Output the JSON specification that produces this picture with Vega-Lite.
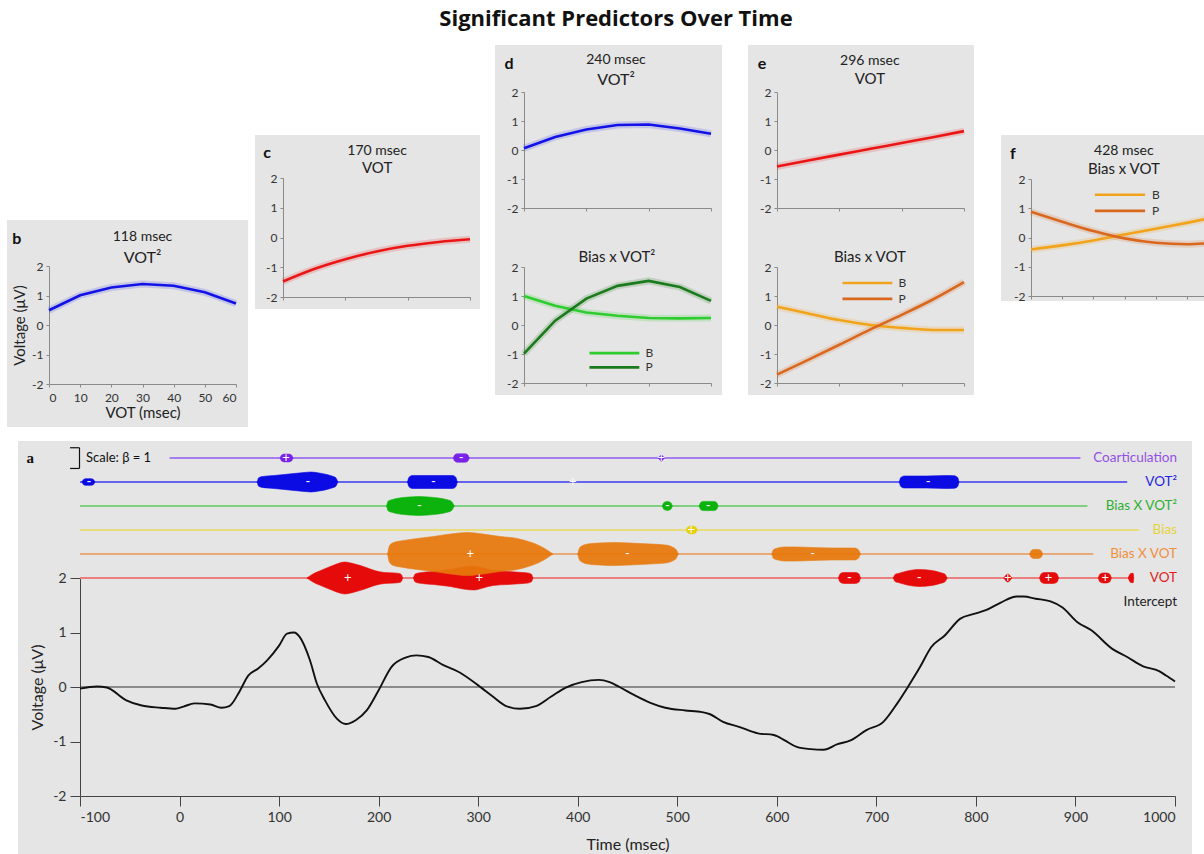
{
  "$schema": "https://vega.github.io/schema/vega-lite/v6.json",
  "background": "white",
  "padding": {"left": 7, "top": 8, "right": 0, "bottom": 0},
  "title": {"text": "Significant Predictors Over Time", "font": "Open Sans", "fontSize": 22, "fontWeight": "bold", "color": "#111111", "anchor": "middle", "offset": 14, "dx": 4},
  "config": {
    "font": "Lato",
    "view": {"stroke": null},
    "axis": {"grid": false, "labelFont": "Lato", "titleFont": "Lato", "labelFontSize": 11, "titleFontSize": 15, "titleFontWeight": "normal", "labelColor": "#333333", "titleColor": "#222222", "domainColor": "#8a8a8a", "tickColor": "#8a8a8a", "tickSize": 3, "labelPadding": 3},
    "text": {"font": "Lato"}
  },
  "datasets": {
    "b_vot2": [{"vot": 0, "v": 0.5}, {"vot": 10, "v": 1.01}, {"vot": 20, "v": 1.27}, {"vot": 30, "v": 1.39}, {"vot": 40, "v": 1.33}, {"vot": 50, "v": 1.11}, {"vot": 60, "v": 0.73}],
    "c_vot": [{"vot": 0, "v": -1.48}, {"vot": 10, "v": -1.06}, {"vot": 20, "v": -0.73}, {"vot": 30, "v": -0.47}, {"vot": 40, "v": -0.28}, {"vot": 50, "v": -0.15}, {"vot": 60, "v": -0.06}],
    "d_vot2": [{"vot": 0, "v": 0.06}, {"vot": 10, "v": 0.45}, {"vot": 20, "v": 0.71}, {"vot": 30, "v": 0.86}, {"vot": 40, "v": 0.88}, {"vot": 50, "v": 0.74}, {"vot": 60, "v": 0.56}],
    "d_bias": [
      {"level": "B", "vot": 0, "v": 1.0}, {"level": "B", "vot": 10, "v": 0.66}, {"level": "B", "vot": 20, "v": 0.43}, {"level": "B", "vot": 30, "v": 0.32}, {"level": "B", "vot": 40, "v": 0.24}, {"level": "B", "vot": 50, "v": 0.23}, {"level": "B", "vot": 60, "v": 0.24},
      {"level": "P", "vot": 0, "v": -0.99}, {"level": "P", "vot": 10, "v": 0.15}, {"level": "P", "vot": 20, "v": 0.91}, {"level": "P", "vot": 30, "v": 1.35}, {"level": "P", "vot": 40, "v": 1.52}, {"level": "P", "vot": 50, "v": 1.31}, {"level": "P", "vot": 60, "v": 0.83}
    ],
    "e_vot": [{"vot": 0, "v": -0.57}, {"vot": 10, "v": -0.36}, {"vot": 20, "v": -0.16}, {"vot": 30, "v": 0.04}, {"vot": 40, "v": 0.24}, {"vot": 50, "v": 0.44}, {"vot": 60, "v": 0.65}],
    "e_bias": [
      {"level": "B", "vot": 0, "v": 0.63}, {"level": "B", "vot": 10, "v": 0.4}, {"level": "B", "vot": 20, "v": 0.17}, {"level": "B", "vot": 30, "v": 0.0}, {"level": "B", "vot": 40, "v": -0.1}, {"level": "B", "vot": 50, "v": -0.17}, {"level": "B", "vot": 60, "v": -0.17},
      {"level": "P", "vot": 0, "v": -1.71}, {"level": "P", "vot": 10, "v": -1.2}, {"level": "P", "vot": 20, "v": -0.68}, {"level": "P", "vot": 30, "v": -0.15}, {"level": "P", "vot": 40, "v": 0.35}, {"level": "P", "vot": 50, "v": 0.88}, {"level": "P", "vot": 60, "v": 1.48}
    ],
    "f_bias": [
      {"level": "B", "vot": 0, "v": -0.41}, {"level": "B", "vot": 10, "v": -0.27}, {"level": "B", "vot": 20, "v": -0.1}, {"level": "B", "vot": 30, "v": 0.1}, {"level": "B", "vot": 40, "v": 0.3}, {"level": "B", "vot": 50, "v": 0.5}, {"level": "B", "vot": 60, "v": 0.72},
      {"level": "P", "vot": 0, "v": 0.88}, {"level": "P", "vot": 10, "v": 0.54}, {"level": "P", "vot": 20, "v": 0.22}, {"level": "P", "vot": 30, "v": -0.03}, {"level": "P", "vot": 40, "v": -0.18}, {"level": "P", "vot": 50, "v": -0.23}, {"level": "P", "vot": 60, "v": -0.17}
    ],
    "erp": [
      {"t": -100, "v": -0.03}, {"t": -83, "v": 0.01}, {"t": -73, "v": -0.01}, {"t": -54, "v": -0.24}, {"t": -38, "v": -0.34}, {"t": -19, "v": -0.38}, {"t": -4, "v": -0.4}, {"t": 4, "v": -0.36}, {"t": 15, "v": -0.3}, {"t": 31, "v": -0.32}, {"t": 42, "v": -0.38}, {"t": 50, "v": -0.35}, {"t": 60, "v": -0.09}, {"t": 69, "v": 0.21}, {"t": 79, "v": 0.34}, {"t": 88, "v": 0.49}, {"t": 100, "v": 0.76}, {"t": 108, "v": 0.98}, {"t": 115, "v": 1.0}, {"t": 121, "v": 0.91}, {"t": 131, "v": 0.49}, {"t": 138, "v": 0.06}, {"t": 146, "v": -0.24}, {"t": 158, "v": -0.58}, {"t": 167, "v": -0.68}, {"t": 177, "v": -0.61}, {"t": 188, "v": -0.43}, {"t": 200, "v": -0.06}, {"t": 213, "v": 0.37}, {"t": 227, "v": 0.54}, {"t": 238, "v": 0.58}, {"t": 250, "v": 0.55}, {"t": 265, "v": 0.4}, {"t": 281, "v": 0.27}, {"t": 300, "v": 0.03}, {"t": 315, "v": -0.18}, {"t": 327, "v": -0.34}, {"t": 342, "v": -0.4}, {"t": 358, "v": -0.35}, {"t": 373, "v": -0.18}, {"t": 388, "v": -0.01}, {"t": 404, "v": 0.09}, {"t": 421, "v": 0.13}, {"t": 432, "v": 0.09}, {"t": 442, "v": 0.0}, {"t": 457, "v": -0.15}, {"t": 473, "v": -0.29}, {"t": 488, "v": -0.38}, {"t": 508, "v": -0.43}, {"t": 525, "v": -0.46}, {"t": 533, "v": -0.5}, {"t": 546, "v": -0.64}, {"t": 562, "v": -0.73}, {"t": 581, "v": -0.85}, {"t": 597, "v": -0.88}, {"t": 608, "v": -0.98}, {"t": 620, "v": -1.1}, {"t": 634, "v": -1.14}, {"t": 647, "v": -1.15}, {"t": 661, "v": -1.05}, {"t": 674, "v": -0.98}, {"t": 690, "v": -0.79}, {"t": 707, "v": -0.64}, {"t": 721, "v": -0.3}, {"t": 732, "v": 0.01}, {"t": 744, "v": 0.37}, {"t": 755, "v": 0.73}, {"t": 769, "v": 0.95}, {"t": 784, "v": 1.25}, {"t": 798, "v": 1.34}, {"t": 810, "v": 1.41}, {"t": 825, "v": 1.55}, {"t": 841, "v": 1.66}, {"t": 848, "v": 1.66}, {"t": 860, "v": 1.62}, {"t": 875, "v": 1.57}, {"t": 887, "v": 1.46}, {"t": 902, "v": 1.19}, {"t": 916, "v": 1.04}, {"t": 937, "v": 0.7}, {"t": 952, "v": 0.55}, {"t": 968, "v": 0.38}, {"t": 984, "v": 0.29}, {"t": 991, "v": 0.21}, {"t": 1000, "v": 0.1}
    ],
    "tracks": [
      {"pred": "Coarticulation", "t0": -10, "t1": 905},
      {"pred": "VOT²", "t0": -100, "t1": 952},
      {"pred": "Bias X VOT²", "t0": -100, "t1": 912},
      {"pred": "Bias", "t0": -100, "t1": 964},
      {"pred": "Bias X VOT", "t0": -100, "t1": 918},
      {"pred": "VOT", "t0": -100, "t1": 958}
    ],
    "blobs": [
      {"pred": "Coarticulation", "blob": "c1", "t": 101, "beta": 0}, {"pred": "Coarticulation", "blob": "c1", "t": 102.5, "beta": 0.28}, {"pred": "Coarticulation", "blob": "c1", "t": 105, "beta": 0.37}, {"pred": "Coarticulation", "blob": "c1", "t": 110, "beta": 0.37}, {"pred": "Coarticulation", "blob": "c1", "t": 112.5, "beta": 0.28}, {"pred": "Coarticulation", "blob": "c1", "t": 114, "beta": 0},
      {"pred": "Coarticulation", "blob": "c2", "t": 275, "beta": 0}, {"pred": "Coarticulation", "blob": "c2", "t": 276.5, "beta": 0.3}, {"pred": "Coarticulation", "blob": "c2", "t": 279, "beta": 0.4}, {"pred": "Coarticulation", "blob": "c2", "t": 287, "beta": 0.4}, {"pred": "Coarticulation", "blob": "c2", "t": 289.5, "beta": 0.3}, {"pred": "Coarticulation", "blob": "c2", "t": 291, "beta": 0},
      {"pred": "Coarticulation", "blob": "c3", "t": 481, "beta": 0}, {"pred": "Coarticulation", "blob": "c3", "t": 484, "beta": 0.29}, {"pred": "Coarticulation", "blob": "c3", "t": 487, "beta": 0},
      {"pred": "VOT²", "blob": "q1", "t": -98, "beta": 0}, {"pred": "VOT²", "blob": "q1", "t": -96.5, "beta": 0.24}, {"pred": "VOT²", "blob": "q1", "t": -94, "beta": 0.32}, {"pred": "VOT²", "blob": "q1", "t": -89, "beta": 0.32}, {"pred": "VOT²", "blob": "q1", "t": -86.5, "beta": 0.24}, {"pred": "VOT²", "blob": "q1", "t": -85, "beta": 0},
      {"pred": "VOT²", "blob": "q2", "t": 78, "beta": 0}, {"pred": "VOT²", "blob": "q2", "t": 79.5, "beta": 0.4}, {"pred": "VOT²", "blob": "q2", "t": 83, "beta": 0.52}, {"pred": "VOT²", "blob": "q2", "t": 95, "beta": 0.62}, {"pred": "VOT²", "blob": "q2", "t": 105, "beta": 0.71}, {"pred": "VOT²", "blob": "q2", "t": 115, "beta": 0.81}, {"pred": "VOT²", "blob": "q2", "t": 125, "beta": 0.9}, {"pred": "VOT²", "blob": "q2", "t": 132, "beta": 0.95}, {"pred": "VOT²", "blob": "q2", "t": 140, "beta": 0.86}, {"pred": "VOT²", "blob": "q2", "t": 148, "beta": 0.71}, {"pred": "VOT²", "blob": "q2", "t": 153, "beta": 0.57}, {"pred": "VOT²", "blob": "q2", "t": 157, "beta": 0.4}, {"pred": "VOT²", "blob": "q2", "t": 159, "beta": 0},
      {"pred": "VOT²", "blob": "q3", "t": 229, "beta": 0}, {"pred": "VOT²", "blob": "q3", "t": 230.5, "beta": 0.45}, {"pred": "VOT²", "blob": "q3", "t": 234, "beta": 0.62}, {"pred": "VOT²", "blob": "q3", "t": 274, "beta": 0.62}, {"pred": "VOT²", "blob": "q3", "t": 277.5, "beta": 0.45}, {"pred": "VOT²", "blob": "q3", "t": 279, "beta": 0},
      {"pred": "VOT²", "blob": "q4", "t": 723, "beta": 0}, {"pred": "VOT²", "blob": "q4", "t": 724.5, "beta": 0.42}, {"pred": "VOT²", "blob": "q4", "t": 728, "beta": 0.57}, {"pred": "VOT²", "blob": "q4", "t": 750, "beta": 0.57}, {"pred": "VOT²", "blob": "q4", "t": 770, "beta": 0.62}, {"pred": "VOT²", "blob": "q4", "t": 778, "beta": 0.6}, {"pred": "VOT²", "blob": "q4", "t": 781.5, "beta": 0.45}, {"pred": "VOT²", "blob": "q4", "t": 783, "beta": 0},
      {"pred": "Bias X VOT²", "blob": "g1", "t": 208, "beta": 0}, {"pred": "Bias X VOT²", "blob": "g1", "t": 209.5, "beta": 0.45}, {"pred": "Bias X VOT²", "blob": "g1", "t": 214, "beta": 0.62}, {"pred": "Bias X VOT²", "blob": "g1", "t": 225, "beta": 0.81}, {"pred": "Bias X VOT²", "blob": "g1", "t": 235, "beta": 0.88}, {"pred": "Bias X VOT²", "blob": "g1", "t": 241, "beta": 0.9}, {"pred": "Bias X VOT²", "blob": "g1", "t": 250, "beta": 0.86}, {"pred": "Bias X VOT²", "blob": "g1", "t": 260, "beta": 0.76}, {"pred": "Bias X VOT²", "blob": "g1", "t": 268, "beta": 0.62}, {"pred": "Bias X VOT²", "blob": "g1", "t": 273, "beta": 0.45}, {"pred": "Bias X VOT²", "blob": "g1", "t": 276, "beta": 0},
      {"pred": "Bias X VOT²", "blob": "g2", "t": 485, "beta": 0}, {"pred": "Bias X VOT²", "blob": "g2", "t": 486.5, "beta": 0.32}, {"pred": "Bias X VOT²", "blob": "g2", "t": 490, "beta": 0.43}, {"pred": "Bias X VOT²", "blob": "g2", "t": 493.5, "beta": 0.32}, {"pred": "Bias X VOT²", "blob": "g2", "t": 495, "beta": 0},
      {"pred": "Bias X VOT²", "blob": "g3", "t": 522, "beta": 0}, {"pred": "Bias X VOT²", "blob": "g3", "t": 523.5, "beta": 0.33}, {"pred": "Bias X VOT²", "blob": "g3", "t": 526, "beta": 0.44}, {"pred": "Bias X VOT²", "blob": "g3", "t": 537, "beta": 0.44}, {"pred": "Bias X VOT²", "blob": "g3", "t": 539.5, "beta": 0.33}, {"pred": "Bias X VOT²", "blob": "g3", "t": 541, "beta": 0},
      {"pred": "Bias", "blob": "y1", "t": 509, "beta": 0}, {"pred": "Bias", "blob": "y1", "t": 510.5, "beta": 0.28}, {"pred": "Bias", "blob": "y1", "t": 514.5, "beta": 0.38}, {"pred": "Bias", "blob": "y1", "t": 518.5, "beta": 0.28}, {"pred": "Bias", "blob": "y1", "t": 520, "beta": 0},
      {"pred": "VOT", "blob": "r1", "t": 128, "beta": 0}, {"pred": "VOT", "blob": "r1", "t": 134, "beta": 0.38}, {"pred": "VOT", "blob": "r1", "t": 143, "beta": 0.76}, {"pred": "VOT", "blob": "r1", "t": 154, "beta": 1.19}, {"pred": "VOT", "blob": "r1", "t": 166, "beta": 1.52}, {"pred": "VOT", "blob": "r1", "t": 176, "beta": 1.33}, {"pred": "VOT", "blob": "r1", "t": 186, "beta": 1.05}, {"pred": "VOT", "blob": "r1", "t": 196, "beta": 0.71}, {"pred": "VOT", "blob": "r1", "t": 206, "beta": 0.52}, {"pred": "VOT", "blob": "r1", "t": 216, "beta": 0.48}, {"pred": "VOT", "blob": "r1", "t": 221, "beta": 0.43}, {"pred": "VOT", "blob": "r1", "t": 223, "beta": 0.3}, {"pred": "VOT", "blob": "r1", "t": 224, "beta": 0},
      {"pred": "VOT", "blob": "r2", "t": 235, "beta": 0}, {"pred": "VOT", "blob": "r2", "t": 236.5, "beta": 0.36}, {"pred": "VOT", "blob": "r2", "t": 240, "beta": 0.48}, {"pred": "VOT", "blob": "r2", "t": 255, "beta": 0.62}, {"pred": "VOT", "blob": "r2", "t": 272, "beta": 0.81}, {"pred": "VOT", "blob": "r2", "t": 285, "beta": 1.05}, {"pred": "VOT", "blob": "r2", "t": 296, "beta": 1.14}, {"pred": "VOT", "blob": "r2", "t": 305, "beta": 0.95}, {"pred": "VOT", "blob": "r2", "t": 315, "beta": 0.71}, {"pred": "VOT", "blob": "r2", "t": 330, "beta": 0.62}, {"pred": "VOT", "blob": "r2", "t": 345, "beta": 0.52}, {"pred": "VOT", "blob": "r2", "t": 350, "beta": 0.48}, {"pred": "VOT", "blob": "r2", "t": 353.5, "beta": 0.36}, {"pred": "VOT", "blob": "r2", "t": 355, "beta": 0},
      {"pred": "VOT", "blob": "r3", "t": 662, "beta": 0}, {"pred": "VOT", "blob": "r3", "t": 663.5, "beta": 0.39}, {"pred": "VOT", "blob": "r3", "t": 667, "beta": 0.52}, {"pred": "VOT", "blob": "r3", "t": 679, "beta": 0.52}, {"pred": "VOT", "blob": "r3", "t": 682.5, "beta": 0.39}, {"pred": "VOT", "blob": "r3", "t": 684, "beta": 0},
      {"pred": "VOT", "blob": "r4", "t": 717, "beta": 0}, {"pred": "VOT", "blob": "r4", "t": 719, "beta": 0.35}, {"pred": "VOT", "blob": "r4", "t": 722, "beta": 0.43}, {"pred": "VOT", "blob": "r4", "t": 731, "beta": 0.67}, {"pred": "VOT", "blob": "r4", "t": 743, "beta": 0.81}, {"pred": "VOT", "blob": "r4", "t": 756, "beta": 0.71}, {"pred": "VOT", "blob": "r4", "t": 764, "beta": 0.52}, {"pred": "VOT", "blob": "r4", "t": 769, "beta": 0.35}, {"pred": "VOT", "blob": "r4", "t": 771, "beta": 0},
      {"pred": "VOT", "blob": "r5", "t": 828, "beta": 0}, {"pred": "VOT", "blob": "r5", "t": 832, "beta": 0.38}, {"pred": "VOT", "blob": "r5", "t": 836, "beta": 0},
      {"pred": "VOT", "blob": "r6", "t": 864, "beta": 0}, {"pred": "VOT", "blob": "r6", "t": 865.5, "beta": 0.39}, {"pred": "VOT", "blob": "r6", "t": 869, "beta": 0.52}, {"pred": "VOT", "blob": "r6", "t": 878, "beta": 0.52}, {"pred": "VOT", "blob": "r6", "t": 881.5, "beta": 0.39}, {"pred": "VOT", "blob": "r6", "t": 883, "beta": 0},
      {"pred": "VOT", "blob": "r7", "t": 923, "beta": 0}, {"pred": "VOT", "blob": "r7", "t": 924.5, "beta": 0.36}, {"pred": "VOT", "blob": "r7", "t": 928, "beta": 0.48}, {"pred": "VOT", "blob": "r7", "t": 931, "beta": 0.48}, {"pred": "VOT", "blob": "r7", "t": 934.5, "beta": 0.36}, {"pred": "VOT", "blob": "r7", "t": 936, "beta": 0},
      {"pred": "VOT", "blob": "r8", "t": 953, "beta": 0}, {"pred": "VOT", "blob": "r8", "t": 955.5, "beta": 0.42}, {"pred": "VOT", "blob": "r8", "t": 958, "beta": 0.45}, {"pred": "VOT", "blob": "r8", "t": 958.5, "beta": 0},
      {"pred": "Bias X VOT", "blob": "o1", "t": 209, "beta": 0}, {"pred": "Bias X VOT", "blob": "o1", "t": 211, "beta": 0.8}, {"pred": "Bias X VOT", "blob": "o1", "t": 215, "beta": 1.1}, {"pred": "Bias X VOT", "blob": "o1", "t": 222, "beta": 1.24}, {"pred": "Bias X VOT", "blob": "o1", "t": 239, "beta": 1.48}, {"pred": "Bias X VOT", "blob": "o1", "t": 255, "beta": 1.67}, {"pred": "Bias X VOT", "blob": "o1", "t": 272, "beta": 1.9}, {"pred": "Bias X VOT", "blob": "o1", "t": 289, "beta": 2.05}, {"pred": "Bias X VOT", "blob": "o1", "t": 305, "beta": 1.9}, {"pred": "Bias X VOT", "blob": "o1", "t": 322, "beta": 1.67}, {"pred": "Bias X VOT", "blob": "o1", "t": 339, "beta": 1.48}, {"pred": "Bias X VOT", "blob": "o1", "t": 352, "beta": 1.14}, {"pred": "Bias X VOT", "blob": "o1", "t": 360, "beta": 0.86}, {"pred": "Bias X VOT", "blob": "o1", "t": 368, "beta": 0.45}, {"pred": "Bias X VOT", "blob": "o1", "t": 375, "beta": 0},
      {"pred": "Bias X VOT", "blob": "o2", "t": 400, "beta": 0}, {"pred": "Bias X VOT", "blob": "o2", "t": 402, "beta": 0.6}, {"pred": "Bias X VOT", "blob": "o2", "t": 406, "beta": 0.85}, {"pred": "Bias X VOT", "blob": "o2", "t": 410, "beta": 0.95}, {"pred": "Bias X VOT", "blob": "o2", "t": 422, "beta": 1.05}, {"pred": "Bias X VOT", "blob": "o2", "t": 437, "beta": 1.1}, {"pred": "Bias X VOT", "blob": "o2", "t": 452, "beta": 1.05}, {"pred": "Bias X VOT", "blob": "o2", "t": 473, "beta": 0.95}, {"pred": "Bias X VOT", "blob": "o2", "t": 488, "beta": 0.86}, {"pred": "Bias X VOT", "blob": "o2", "t": 495, "beta": 0.67}, {"pred": "Bias X VOT", "blob": "o2", "t": 499, "beta": 0.4}, {"pred": "Bias X VOT", "blob": "o2", "t": 501, "beta": 0},
      {"pred": "Bias X VOT", "blob": "o3", "t": 595, "beta": 0}, {"pred": "Bias X VOT", "blob": "o3", "t": 596.5, "beta": 0.4}, {"pred": "Bias X VOT", "blob": "o3", "t": 601, "beta": 0.57}, {"pred": "Bias X VOT", "blob": "o3", "t": 608, "beta": 0.67}, {"pred": "Bias X VOT", "blob": "o3", "t": 620, "beta": 0.67}, {"pred": "Bias X VOT", "blob": "o3", "t": 636, "beta": 0.62}, {"pred": "Bias X VOT", "blob": "o3", "t": 655, "beta": 0.57}, {"pred": "Bias X VOT", "blob": "o3", "t": 678, "beta": 0.57}, {"pred": "Bias X VOT", "blob": "o3", "t": 682, "beta": 0.4}, {"pred": "Bias X VOT", "blob": "o3", "t": 684, "beta": 0},
      {"pred": "Bias X VOT", "blob": "o4", "t": 854, "beta": 0}, {"pred": "Bias X VOT", "blob": "o4", "t": 855.5, "beta": 0.32}, {"pred": "Bias X VOT", "blob": "o4", "t": 858, "beta": 0.43}, {"pred": "Bias X VOT", "blob": "o4", "t": 863, "beta": 0.43}, {"pred": "Bias X VOT", "blob": "o4", "t": 865.5, "beta": 0.32}, {"pred": "Bias X VOT", "blob": "o4", "t": 867, "beta": 0}
    ],
    "signs": [
      {"pred": "Coarticulation", "t": 107, "sign": "+"}, {"pred": "Coarticulation", "t": 283, "sign": "-"}, {"pred": "Coarticulation", "t": 484, "sign": "+"},
      {"pred": "VOT²", "t": -91, "sign": "-"}, {"pred": "VOT²", "t": 129, "sign": "-"}, {"pred": "VOT²", "t": 255, "sign": "-"}, {"pred": "VOT²", "t": 395, "sign": "+"}, {"pred": "VOT²", "t": 752, "sign": "-"},
      {"pred": "Bias X VOT²", "t": 241, "sign": "-"}, {"pred": "Bias X VOT²", "t": 490, "sign": "-"}, {"pred": "Bias X VOT²", "t": 531, "sign": "-"},
      {"pred": "Bias", "t": 514, "sign": "+"},
      {"pred": "Bias X VOT", "t": 292, "sign": "+"}, {"pred": "Bias X VOT", "t": 450, "sign": "-"}, {"pred": "Bias X VOT", "t": 636, "sign": "-"},
      {"pred": "VOT", "t": 169, "sign": "+"}, {"pred": "VOT", "t": 301, "sign": "+"}, {"pred": "VOT", "t": 673, "sign": "-"}, {"pred": "VOT", "t": 743, "sign": "-"}, {"pred": "VOT", "t": 832, "sign": "+"}, {"pred": "VOT", "t": 873, "sign": "+"}, {"pred": "VOT", "t": 930, "sign": "+"}
    ],
    "names": [{"pred": "Coarticulation"}, {"pred": "VOT²"}, {"pred": "Bias X VOT²"}, {"pred": "Bias"}, {"pred": "Bias X VOT"}, {"pred": "VOT"}, {"pred": "Intercept"}],
    "one": [{}]
  },
  "resolve": {"scale": {"color": "independent"}},
  "spacing": 14,
  "vconcat": [
    {
      "spacing": 0,
      "resolve": {"scale": {"color": "independent"}},
      "hconcat": [
        {
          "spacing": 0,
          "vconcat": [
            {"width": 241, "height": 175, "data": {"values": []}, "mark": "point"},
            {
              "width": 241, "height": 207,
              "view": {"fill": "#e5e5e5", "stroke": null},
              "data": {"name": "b_vot2"},
              "layer": [
                {"mark": {"type": "line", "color": "#3434f0", "strokeWidth": 7, "opacity": 0.18},
                 "encoding": {
                   "x": {"field": "vot", "type": "quantitative", "scale": {"domain": [0, 60], "range": [42, 229], "nice": false, "zero": false}, "axis": {"values": [0, 10, 20, 30, 40, 50, 60], "offset": -43, "title": "VOT (msec)", "titlePadding": 2, "labelPadding": 5, "labelFontSize": 12}},
                   "y": {"field": "v", "type": "quantitative", "scale": {"domain": [-2, 2], "range": [164, 46], "nice": false, "zero": false}, "axis": {"values": [-2, -1, 0, 1, 2], "offset": -42, "title": "Voltage (μV)", "titlePadding": 4, "labelFontSize": 12, "labelExpr": "'' + datum.value"}}
                 }},
                {"mark": {"type": "line", "color": "#1212e6", "strokeWidth": 2.6},
                 "encoding": {"x": {"field": "vot", "type": "quantitative"}, "y": {"field": "v", "type": "quantitative"}}},
                {"data": {"name": "one"}, "mark": {"type": "text", "fontSize": 16, "fontWeight": "bold", "color": "#111111"},
                 "encoding": {"x": {"datum": -10.3}, "y": {"datum": 2.9}, "text": {"value": "b"}}},
                {"data": {"name": "one"}, "mark": {"type": "text", "fontSize": 14, "color": "#222222"},
                 "encoding": {"x": {"datum": 30}, "y": {"datum": 3.0}, "text": {"value": "118 msec"}}},
                {"data": {"name": "one"}, "mark": {"type": "text", "fontSize": 16, "color": "#222222"},
                 "encoding": {"x": {"datum": 30}, "y": {"datum": 2.27}, "text": {"value": "VOT²"}}}
              ]
            }
          ]
        },
        {"width": 5, "height": 10, "data": {"values": []}, "mark": "point"},
        {
          "spacing": 0,
          "vconcat": [
            {"width": 225, "height": 90, "data": {"values": []}, "mark": "point"},
            {
              "width": 225, "height": 174,
              "view": {"fill": "#e5e5e5", "stroke": null},
              "data": {"name": "c_vot"},
              "layer": [
                {"mark": {"type": "line", "color": "#f02020", "strokeWidth": 7, "opacity": 0.18, "interpolate": "monotone"},
                 "encoding": {
                   "x": {"field": "vot", "type": "quantitative", "scale": {"domain": [0, 60], "range": [28, 215], "nice": false, "zero": false}, "axis": {"values": [0, 10, 20, 30, 40, 50, 60], "offset": -12, "labels": false, "title": null}},
                   "y": {"field": "v", "type": "quantitative", "scale": {"domain": [-2, 2], "range": [162, 43], "nice": false, "zero": false}, "axis": {"values": [-2, -1, 0, 1, 2], "offset": -28, "title": null, "labelFontSize": 12, "labelExpr": "'' + datum.value"}}
                 }},
                {"mark": {"type": "line", "color": "#ea1515", "strokeWidth": 2.6, "interpolate": "monotone"},
                 "encoding": {"x": {"field": "vot", "type": "quantitative"}, "y": {"field": "v", "type": "quantitative"}}},
                {"data": {"name": "one"}, "mark": {"type": "text", "fontSize": 16, "fontWeight": "bold", "color": "#111111"},
                 "encoding": {"x": {"datum": -5.1}, "y": {"datum": 2.84}, "text": {"value": "c"}}},
                {"data": {"name": "one"}, "mark": {"type": "text", "fontSize": 14, "color": "#222222"},
                 "encoding": {"x": {"datum": 30.2}, "y": {"datum": 2.92}, "text": {"value": "170 msec"}}},
                {"data": {"name": "one"}, "mark": {"type": "text", "fontSize": 15, "color": "#222222"},
                 "encoding": {"x": {"datum": 30.2}, "y": {"datum": 2.32}, "text": {"value": "VOT"}}}
              ]
            }
          ]
        },
        {"width": 11, "height": 10, "data": {"values": []}, "mark": "point"},
        {
          "spacing": 0,
          "resolve": {"scale": {"color": "independent"}},
          "vconcat": [
            {
              "width": 227, "height": 177,
              "view": {"fill": "#e5e5e5", "stroke": null},
              "data": {"name": "d_vot2"},
              "layer": [
                {"mark": {"type": "line", "color": "#3434f0", "strokeWidth": 7, "opacity": 0.18},
                 "encoding": {
                   "x": {"field": "vot", "type": "quantitative", "scale": {"domain": [0, 60], "range": [29, 216], "nice": false, "zero": false}, "axis": {"values": [0, 10, 20, 30, 40, 50, 60], "offset": -14, "labels": false, "title": null}},
                   "y": {"field": "v", "type": "quantitative", "scale": {"domain": [-2, 2], "range": [163, 47], "nice": false, "zero": false}, "axis": {"values": [-2, -1, 0, 1, 2], "offset": -29, "title": null, "labelFontSize": 12, "labelExpr": "'' + datum.value"}}
                 }},
                {"mark": {"type": "line", "color": "#1212e6", "strokeWidth": 2.6},
                 "encoding": {"x": {"field": "vot", "type": "quantitative"}, "y": {"field": "v", "type": "quantitative"}}},
                {"data": {"name": "one"}, "mark": {"type": "text", "fontSize": 16, "fontWeight": "bold", "color": "#111111"},
                 "encoding": {"x": {"datum": -4.8}, "y": {"datum": 2.95}, "text": {"value": "d"}}},
                {"data": {"name": "one"}, "mark": {"type": "text", "fontSize": 14, "color": "#222222"},
                 "encoding": {"x": {"datum": 29.5}, "y": {"datum": 3.12}, "text": {"value": "240 msec"}}},
                {"data": {"name": "one"}, "mark": {"type": "text", "fontSize": 16, "color": "#222222"},
                 "encoding": {"x": {"datum": 29.5}, "y": {"datum": 2.42}, "text": {"value": "VOT²"}}}
              ]
            },
            {
              "width": 227, "height": 173,
              "view": {"fill": "#e5e5e5", "stroke": null},
              "data": {"name": "d_bias"},
              "layer": [
                {"mark": {"type": "line", "strokeWidth": 7, "opacity": 0.18},
                 "encoding": {
                   "x": {"field": "vot", "type": "quantitative", "scale": {"domain": [0, 60], "range": [29, 216], "nice": false, "zero": false}, "axis": {"values": [0, 10, 20, 30, 40, 50, 60], "offset": -12, "labels": false, "title": null}},
                   "y": {"field": "v", "type": "quantitative", "scale": {"domain": [-2, 2], "range": [161, 45], "nice": false, "zero": false}, "axis": {"values": [-2, -1, 0, 1, 2], "offset": -29, "title": null, "labelFontSize": 12, "labelExpr": "'' + datum.value"}},
                   "color": {"field": "level", "type": "nominal", "scale": {"domain": ["B", "P"], "range": ["#2ecc2e", "#1b7a1b"]}, "legend": null}
                 }},
                {"mark": {"type": "line", "strokeWidth": 2.6},
                 "encoding": {"x": {"field": "vot", "type": "quantitative"}, "y": {"field": "v", "type": "quantitative"}, "color": {"field": "level", "type": "nominal", "legend": null}}},
                {"data": {"name": "one"}, "mark": {"type": "rule", "strokeWidth": 2.6},
                 "encoding": {"x": {"datum": 21}, "x2": {"datum": 37}, "y": {"datum": -0.97}, "color": {"datum": "B"}}},
                {"data": {"name": "one"}, "mark": {"type": "rule", "strokeWidth": 2.6},
                 "encoding": {"x": {"datum": 21}, "x2": {"datum": 37}, "y": {"datum": -1.46}, "color": {"datum": "P"}}},
                {"data": {"name": "one"}, "mark": {"type": "text", "fontSize": 12, "align": "left", "color": "#333333"},
                 "encoding": {"x": {"datum": 39}, "y": {"datum": -0.97}, "text": {"value": "B"}}},
                {"data": {"name": "one"}, "mark": {"type": "text", "fontSize": 12, "align": "left", "color": "#333333"},
                 "encoding": {"x": {"datum": 39}, "y": {"datum": -1.46}, "text": {"value": "P"}}},
                {"data": {"name": "one"}, "mark": {"type": "text", "fontSize": 15, "color": "#222222"},
                 "encoding": {"x": {"datum": 29.8}, "y": {"datum": 2.34}, "text": {"value": "Bias x VOT²"}}}
              ]
            }
          ]
        },
        {"width": 23, "height": 10, "data": {"values": []}, "mark": "point"},
        {
          "spacing": 0,
          "resolve": {"scale": {"color": "independent"}},
          "vconcat": [
            {
              "width": 226, "height": 177,
              "view": {"fill": "#e5e5e5", "stroke": null},
              "data": {"name": "e_vot"},
              "layer": [
                {"mark": {"type": "line", "color": "#f02020", "strokeWidth": 7, "opacity": 0.18, "interpolate": "monotone"},
                 "encoding": {
                   "x": {"field": "vot", "type": "quantitative", "scale": {"domain": [0, 60], "range": [29, 216], "nice": false, "zero": false}, "axis": {"values": [0, 10, 20, 30, 40, 50, 60], "offset": -14, "labels": false, "title": null}},
                   "y": {"field": "v", "type": "quantitative", "scale": {"domain": [-2, 2], "range": [163, 47], "nice": false, "zero": false}, "axis": {"values": [-2, -1, 0, 1, 2], "offset": -29, "title": null, "labelFontSize": 12, "labelExpr": "'' + datum.value"}}
                 }},
                {"mark": {"type": "line", "color": "#ea1515", "strokeWidth": 2.6, "interpolate": "monotone"},
                 "encoding": {"x": {"field": "vot", "type": "quantitative"}, "y": {"field": "v", "type": "quantitative"}}},
                {"data": {"name": "one"}, "mark": {"type": "text", "fontSize": 16, "fontWeight": "bold", "color": "#111111"},
                 "encoding": {"x": {"datum": -4.8}, "y": {"datum": 2.95}, "text": {"value": "e"}}},
                {"data": {"name": "one"}, "mark": {"type": "text", "fontSize": 14, "color": "#222222"},
                 "encoding": {"x": {"datum": 29.8}, "y": {"datum": 3.08}, "text": {"value": "296 msec"}}},
                {"data": {"name": "one"}, "mark": {"type": "text", "fontSize": 15, "color": "#222222"},
                 "encoding": {"x": {"datum": 29.8}, "y": {"datum": 2.45}, "text": {"value": "VOT"}}}
              ]
            },
            {
              "width": 226, "height": 173,
              "view": {"fill": "#e5e5e5", "stroke": null},
              "data": {"name": "e_bias"},
              "layer": [
                {"mark": {"type": "line", "strokeWidth": 7, "opacity": 0.18, "interpolate": "monotone"},
                 "encoding": {
                   "x": {"field": "vot", "type": "quantitative", "scale": {"domain": [0, 60], "range": [29, 216], "nice": false, "zero": false}, "axis": {"values": [0, 10, 20, 30, 40, 50, 60], "offset": -12, "labels": false, "title": null}},
                   "y": {"field": "v", "type": "quantitative", "scale": {"domain": [-2, 2], "range": [161, 45], "nice": false, "zero": false}, "axis": {"values": [-2, -1, 0, 1, 2], "offset": -29, "title": null, "labelFontSize": 12, "labelExpr": "'' + datum.value"}},
                   "color": {"field": "level", "type": "nominal", "scale": {"domain": ["B", "P"], "range": ["#f2a31c", "#d9671e"]}, "legend": null}
                 }},
                {"mark": {"type": "line", "strokeWidth": 2.6, "interpolate": "monotone"},
                 "encoding": {"x": {"field": "vot", "type": "quantitative"}, "y": {"field": "v", "type": "quantitative"}, "color": {"field": "level", "type": "nominal", "legend": null}}},
                {"data": {"name": "one"}, "mark": {"type": "rule", "strokeWidth": 2.6},
                 "encoding": {"x": {"datum": 21}, "x2": {"datum": 37}, "y": {"datum": 1.45}, "color": {"datum": "B"}}},
                {"data": {"name": "one"}, "mark": {"type": "rule", "strokeWidth": 2.6},
                 "encoding": {"x": {"datum": 21}, "x2": {"datum": 37}, "y": {"datum": 0.9}, "color": {"datum": "P"}}},
                {"data": {"name": "one"}, "mark": {"type": "text", "fontSize": 12, "align": "left", "color": "#333333"},
                 "encoding": {"x": {"datum": 39}, "y": {"datum": 1.45}, "text": {"value": "B"}}},
                {"data": {"name": "one"}, "mark": {"type": "text", "fontSize": 12, "align": "left", "color": "#333333"},
                 "encoding": {"x": {"datum": 39}, "y": {"datum": 0.9}, "text": {"value": "P"}}},
                {"data": {"name": "one"}, "mark": {"type": "text", "fontSize": 15, "color": "#222222"},
                 "encoding": {"x": {"datum": 29.8}, "y": {"datum": 2.34}, "text": {"value": "Bias x VOT"}}}
              ]
            }
          ]
        },
        {"width": 23, "height": 10, "data": {"values": []}, "mark": "point"},
        {
          "spacing": 0,
          "vconcat": [
            {"width": 216, "height": 90, "data": {"values": []}, "mark": "point"},
            {
              "width": 216, "height": 166,
              "view": {"fill": "#e5e5e5", "stroke": null},
              "data": {"name": "f_bias"},
              "layer": [
                {"mark": {"type": "line", "strokeWidth": 7, "opacity": 0.18, "interpolate": "monotone", "clip": true},
                 "encoding": {
                   "x": {"field": "vot", "type": "quantitative", "scale": {"domain": [0, 60], "range": [30, 217], "nice": false, "zero": false}, "axis": {"values": [0, 10, 20, 30, 40, 50], "offset": -5, "labels": false, "title": null}},
                   "y": {"field": "v", "type": "quantitative", "scale": {"domain": [-2, 2], "range": [161, 44], "nice": false, "zero": false}, "axis": {"values": [-2, -1, 0, 1, 2], "offset": -30, "title": null, "labelFontSize": 12, "labelExpr": "'' + datum.value"}},
                   "color": {"field": "level", "type": "nominal", "scale": {"domain": ["B", "P"], "range": ["#f2a31c", "#d9671e"]}, "legend": null}
                 }},
                {"mark": {"type": "line", "strokeWidth": 2.6, "interpolate": "monotone", "clip": true},
                 "encoding": {"x": {"field": "vot", "type": "quantitative"}, "y": {"field": "v", "type": "quantitative"}, "color": {"field": "level", "type": "nominal", "legend": null}}},
                {"data": {"name": "one"}, "mark": {"type": "rule", "strokeWidth": 2.6},
                 "encoding": {"x": {"datum": 20.5}, "x2": {"datum": 36.6}, "y": {"datum": 1.46}, "color": {"datum": "B"}}},
                {"data": {"name": "one"}, "mark": {"type": "rule", "strokeWidth": 2.6},
                 "encoding": {"x": {"datum": 20.5}, "x2": {"datum": 36.6}, "y": {"datum": 0.91}, "color": {"datum": "P"}}},
                {"data": {"name": "one"}, "mark": {"type": "text", "fontSize": 12, "align": "left", "color": "#333333"},
                 "encoding": {"x": {"datum": 38.8}, "y": {"datum": 1.46}, "text": {"value": "B"}}},
                {"data": {"name": "one"}, "mark": {"type": "text", "fontSize": 12, "align": "left", "color": "#333333"},
                 "encoding": {"x": {"datum": 38.8}, "y": {"datum": 0.91}, "text": {"value": "P"}}},
                {"data": {"name": "one"}, "mark": {"type": "text", "fontSize": 16, "fontWeight": "bold", "color": "#111111"},
                 "encoding": {"x": {"datum": -5.8}, "y": {"datum": 2.85}, "text": {"value": "f"}}},
                {"data": {"name": "one"}, "mark": {"type": "text", "fontSize": 14, "color": "#222222"},
                 "encoding": {"x": {"datum": 29.8}, "y": {"datum": 2.97}, "text": {"value": "428 msec"}}},
                {"data": {"name": "one"}, "mark": {"type": "text", "fontSize": 15, "color": "#222222"},
                 "encoding": {"x": {"datum": 29.8}, "y": {"datum": 2.35}, "text": {"value": "Bias x VOT"}}}
              ]
            }
          ]
        }
      ]
    },
    {
      "spacing": 0,
      "hconcat": [
        {"width": 11, "height": 10, "data": {"values": []}, "mark": "point"},
        {
          "width": 1174, "height": 413,
          "view": {"fill": "#e5e5e5", "stroke": null},
          "resolve": {"scale": {"y": "independent", "color": "independent"}},
          "layer": [
            {
              "layer": [
                {"data": {"name": "one"}, "mark": {"type": "rule", "color": "#333333", "strokeWidth": 1.2},
                 "encoding": {
                   "x": {"datum": -100, "type": "quantitative", "scale": {"domain": [-100, 1000], "range": [62, 1157], "nice": false, "zero": false}, "axis": {"values": [-100, 0, 100, 200, 300, 400, 500, 600, 700, 800, 900, 1000], "offset": -58, "title": "Time (msec)", "labelFontSize": 14, "titleFontSize": 16, "tickSize": 10, "labelPadding": 4, "titlePadding": 12, "domainColor": "#444444", "tickColor": "#444444", "labelExpr": "'' + datum.value"}},
                   "x2": {"datum": 1000},
                   "y": {"datum": 0, "type": "quantitative", "scale": {"domain": [-2, 2], "range": [355, 137], "nice": false, "zero": false}, "axis": {"values": [-2, -1, 0, 1, 2], "offset": -62, "title": "Voltage (μV)", "labelFontSize": 14, "titleFontSize": 16, "tickSize": 10, "labelPadding": 4, "titlePadding": 7, "domainColor": "#444444", "tickColor": "#444444", "labelExpr": "'' + datum.value"}}
                 }},
                {"data": {"name": "erp"}, "mark": {"type": "line", "color": "#111111", "strokeWidth": 1.9, "interpolate": "monotone"},
                 "encoding": {"x": {"field": "t", "type": "quantitative"}, "y": {"field": "v", "type": "quantitative"}}},
                {"data": {"name": "one"}, "mark": {"type": "rule", "color": "#111111", "strokeWidth": 1.2},
                 "encoding": {"x": {"datum": -100.5}, "y": {"datum": 4.39}, "y2": {"datum": 4.01}}},
                {"data": {"name": "one"}, "mark": {"type": "rule", "color": "#111111", "strokeWidth": 1.2},
                 "encoding": {"x": {"datum": -110}, "x2": {"datum": -100.5}, "y": {"datum": 4.39}}},
                {"data": {"name": "one"}, "mark": {"type": "rule", "color": "#111111", "strokeWidth": 1.2},
                 "encoding": {"x": {"datum": -110}, "x2": {"datum": -100.5}, "y": {"datum": 4.01}}}
              ]
            },
            {
              "resolve": {"scale": {"y": "independent", "color": "independent"}},
              "layer": [
                {"data": {"name": "tracks"}, "mark": {"type": "rule", "strokeWidth": 1.8},
                 "encoding": {
                   "x": {"field": "t0", "type": "quantitative"},
                   "x2": {"field": "t1"},
                   "y": {"field": "pred", "type": "nominal", "scale": {"type": "point", "domain": ["Intercept", "VOT", "Bias X VOT", "Bias", "Bias X VOT²", "VOT²", "Coarticulation"], "range": [161, 17], "padding": 0}, "axis": null},
                   "color": {"field": "pred", "type": "nominal", "scale": {"domain": ["Coarticulation", "VOT²", "Bias X VOT²", "Bias", "Bias X VOT", "VOT"], "range": ["#a77cf0", "#6464ee", "#7fd17f", "#e9dc7a", "#e9aa7a", "#ea8080"]}, "legend": null}
                 }},
                {
                  "data": {"name": "blobs"},
                  "resolve": {"scale": {"y": "independent"}},
                  "layer": [
                    {"transform": [{"filter": "datum.pred === 'Coarticulation'"}], "mark": {"type": "area", "interpolate": "monotone", "color": "#7a22e8", "stroke": "#7a22e8", "strokeWidth": 0.6},
                     "encoding": {"x": {"field": "t", "type": "quantitative"}, "y": {"field": "beta", "type": "quantitative", "stack": null, "scale": {"domain": [0, 2], "range": [17, -4], "zero": false, "nice": false}, "axis": null}, "detail": {"field": "blob"}}},
                    {"transform": [{"filter": "datum.pred === 'Coarticulation'"}], "mark": {"type": "area", "interpolate": "monotone", "color": "#7a22e8", "stroke": "#7a22e8", "strokeWidth": 0.6},
                     "encoding": {"x": {"field": "t", "type": "quantitative"}, "y": {"field": "beta", "type": "quantitative", "stack": null, "scale": {"domain": [0, 2], "range": [17, 38], "zero": false, "nice": false}, "axis": null}, "detail": {"field": "blob"}}},
                    {"transform": [{"filter": "datum.pred === 'VOT²'"}], "mark": {"type": "area", "interpolate": "monotone", "color": "#0b0be3", "stroke": "#0b0be3", "strokeWidth": 0.6},
                     "encoding": {"x": {"field": "t", "type": "quantitative"}, "y": {"field": "beta", "type": "quantitative", "stack": null, "scale": {"domain": [0, 2], "range": [41, 20], "zero": false, "nice": false}, "axis": null}, "detail": {"field": "blob"}}},
                    {"transform": [{"filter": "datum.pred === 'VOT²'"}], "mark": {"type": "area", "interpolate": "monotone", "color": "#0b0be3", "stroke": "#0b0be3", "strokeWidth": 0.6},
                     "encoding": {"x": {"field": "t", "type": "quantitative"}, "y": {"field": "beta", "type": "quantitative", "stack": null, "scale": {"domain": [0, 2], "range": [41, 62], "zero": false, "nice": false}, "axis": null}, "detail": {"field": "blob"}}},
                    {"transform": [{"filter": "datum.pred === 'Bias X VOT²'"}], "mark": {"type": "area", "interpolate": "monotone", "color": "#0db30d", "stroke": "#0db30d", "strokeWidth": 0.6},
                     "encoding": {"x": {"field": "t", "type": "quantitative"}, "y": {"field": "beta", "type": "quantitative", "stack": null, "scale": {"domain": [0, 2], "range": [65, 44], "zero": false, "nice": false}, "axis": null}, "detail": {"field": "blob"}}},
                    {"transform": [{"filter": "datum.pred === 'Bias X VOT²'"}], "mark": {"type": "area", "interpolate": "monotone", "color": "#0db30d", "stroke": "#0db30d", "strokeWidth": 0.6},
                     "encoding": {"x": {"field": "t", "type": "quantitative"}, "y": {"field": "beta", "type": "quantitative", "stack": null, "scale": {"domain": [0, 2], "range": [65, 86], "zero": false, "nice": false}, "axis": null}, "detail": {"field": "blob"}}},
                    {"transform": [{"filter": "datum.pred === 'Bias'"}], "mark": {"type": "area", "interpolate": "monotone", "color": "#e8cf0c", "stroke": "#e8cf0c", "strokeWidth": 0.6},
                     "encoding": {"x": {"field": "t", "type": "quantitative"}, "y": {"field": "beta", "type": "quantitative", "stack": null, "scale": {"domain": [0, 2], "range": [89, 68], "zero": false, "nice": false}, "axis": null}, "detail": {"field": "blob"}}},
                    {"transform": [{"filter": "datum.pred === 'Bias'"}], "mark": {"type": "area", "interpolate": "monotone", "color": "#e8cf0c", "stroke": "#e8cf0c", "strokeWidth": 0.6},
                     "encoding": {"x": {"field": "t", "type": "quantitative"}, "y": {"field": "beta", "type": "quantitative", "stack": null, "scale": {"domain": [0, 2], "range": [89, 110], "zero": false, "nice": false}, "axis": null}, "detail": {"field": "blob"}}},
                    {"transform": [{"filter": "datum.pred === 'VOT'"}], "mark": {"type": "area", "interpolate": "monotone", "color": "#e60b0b", "stroke": "#e60b0b", "strokeWidth": 0.6},
                     "encoding": {"x": {"field": "t", "type": "quantitative"}, "y": {"field": "beta", "type": "quantitative", "stack": null, "scale": {"domain": [0, 2], "range": [137, 116], "zero": false, "nice": false}, "axis": null}, "detail": {"field": "blob"}}},
                    {"transform": [{"filter": "datum.pred === 'VOT'"}], "mark": {"type": "area", "interpolate": "monotone", "color": "#e60b0b", "stroke": "#e60b0b", "strokeWidth": 0.6},
                     "encoding": {"x": {"field": "t", "type": "quantitative"}, "y": {"field": "beta", "type": "quantitative", "stack": null, "scale": {"domain": [0, 2], "range": [137, 158], "zero": false, "nice": false}, "axis": null}, "detail": {"field": "blob"}}},
                    {"transform": [{"filter": "datum.pred === 'Bias X VOT'"}], "mark": {"type": "area", "interpolate": "monotone", "color": "#e8780c", "stroke": "#e8780c", "strokeWidth": 0.6, "opacity": 0.93},
                     "encoding": {"x": {"field": "t", "type": "quantitative"}, "y": {"field": "beta", "type": "quantitative", "stack": null, "scale": {"domain": [0, 2], "range": [113, 92], "zero": false, "nice": false}, "axis": null}, "detail": {"field": "blob"}}},
                    {"transform": [{"filter": "datum.pred === 'Bias X VOT'"}], "mark": {"type": "area", "interpolate": "monotone", "color": "#e8780c", "stroke": "#e8780c", "strokeWidth": 0.6, "opacity": 0.93},
                     "encoding": {"x": {"field": "t", "type": "quantitative"}, "y": {"field": "beta", "type": "quantitative", "stack": null, "scale": {"domain": [0, 2], "range": [113, 134], "zero": false, "nice": false}, "axis": null}, "detail": {"field": "blob"}}}
                  ]
                },
                {
                  "layer": [
                    {"data": {"name": "names"}, "mark": {"type": "text", "align": "right", "fontSize": 13.5, "baseline": "middle"},
                     "encoding": {
                       "x": {"datum": 1002},
                       "y": {"field": "pred", "type": "nominal", "scale": {"type": "point", "domain": ["Intercept", "VOT", "Bias X VOT", "Bias", "Bias X VOT²", "VOT²", "Coarticulation"], "range": [161, 17], "padding": 0}, "axis": null},
                       "text": {"field": "pred"},
                       "color": {"field": "pred", "type": "nominal", "scale": {"domain": ["Coarticulation", "VOT²", "Bias X VOT²", "Bias", "Bias X VOT", "VOT", "Intercept"], "range": ["#9350e6", "#2424e0", "#2fb02f", "#e6d43c", "#f0903c", "#e21b1b", "#222222"]}, "legend": null}
                     }},
                    {"data": {"name": "signs"}, "mark": {"type": "text", "color": "white", "fontSize": 13, "baseline": "middle"},
                     "encoding": {
                       "x": {"field": "t", "type": "quantitative"},
                       "y": {"field": "pred", "type": "nominal"},
                       "text": {"field": "sign"}
                     }},
                    {"data": {"name": "one"}, "mark": {"type": "text", "align": "left", "fontSize": 13, "color": "#111111", "baseline": "middle"},
                     "encoding": {"x": {"datum": -94}, "y": {"datum": "Coarticulation"}, "text": {"value": "Scale: β = 1"}}},
                    {"data": {"name": "one"}, "mark": {"type": "text", "align": "center", "fontSize": 15, "font": "Liberation Serif", "fontWeight": "bold", "color": "#111111", "baseline": "middle"},
                     "encoding": {"x": {"datum": -150}, "y": {"datum": "Coarticulation"}, "text": {"value": "a"}}}
                  ]
                }
              ]
            }
          ]
        }
      ]
    }
  ]
}
